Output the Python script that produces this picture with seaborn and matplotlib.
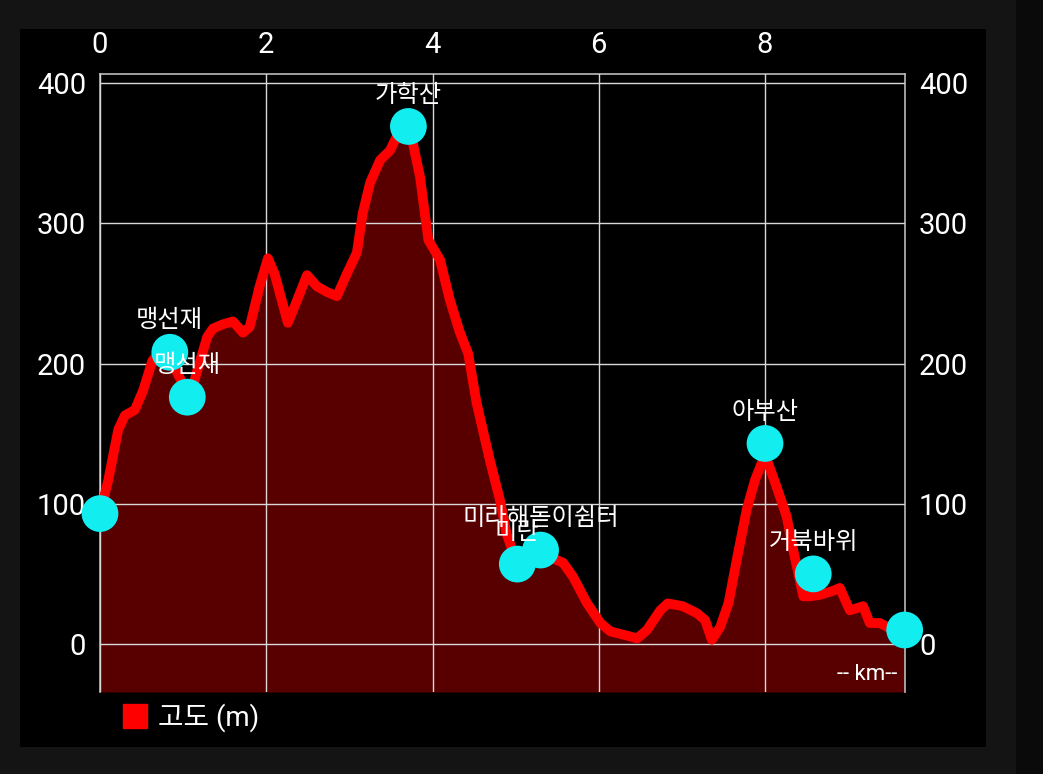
import matplotlib
matplotlib.use("Agg")
import matplotlib.pyplot as plt
from matplotlib.patches import Rectangle
from matplotlib.lines import Line2D
import seaborn as sns
import pandas as pd

# --- data ---
dist_km = [0.00, 0.10, 0.22, 0.30, 0.42, 0.52, 0.63, 0.72, 0.84, 0.94, 1.03, 1.10, 1.17,
           1.29, 1.36, 1.48, 1.60, 1.72, 1.80, 1.92, 2.02, 2.10, 2.26, 2.37, 2.49, 2.61,
           2.73, 2.85, 2.97, 3.09, 3.16, 3.25, 3.37, 3.49, 3.57, 3.67, 3.75, 3.85, 3.95,
           4.09, 4.21, 4.33, 4.43, 4.53, 4.69, 4.81, 4.89, 4.97, 5.10, 5.25, 5.41, 5.57,
           5.69, 5.86, 6.02, 6.14, 6.34, 6.46, 6.58, 6.74, 6.83, 7.01, 7.18, 7.28, 7.36,
           7.46, 7.56, 7.66, 7.78, 7.88, 8.00, 8.14, 8.26, 8.34, 8.46, 8.54, 8.66, 8.82,
           8.90, 9.02, 9.18, 9.26, 9.38, 9.54, 9.68]
elev_m = [93, 117, 153, 163, 167, 181, 202, 208, 205, 192, 182, 180, 195,
          219, 225, 228, 230, 222, 226, 255, 275, 264, 229, 245, 263, 255,
          251, 248, 264, 279, 307, 329, 345, 352, 362, 363, 361, 333, 288,
          274, 245, 222, 207, 172, 131, 103, 79, 65, 66, 66, 62, 58,
          48, 29, 15, 9, 6, 4, 10, 24, 29, 27, 22, 17, 3,
          12, 29, 60, 96, 117, 135, 112, 91, 67, 34, 34, 35, 38,
          40, 24, 27, 15, 15, 10, 10]

wp_km = [0.00, 0.84, 1.05, 3.71, 5.02, 5.30, 8.00, 8.58, 9.68]
wp_elev = [93, 208, 176, 369, 57, 67, 143, 50, 10]
wp_names = ["", "맹선재", "맹선재", "가학산", "미란", "미라해돋이쉼터", "아부산", "거북바위", ""]

x_ticks = [0, 2, 4, 6, 8]
y_ticks = [0, 100, 200, 300, 400]
series_label = "고도 (m)"
axis_unit = "-- km--"

# --- style ---
sns.set_theme(style="dark")
plt.rcParams["font.family"] = ["Roboto", "Noto Sans CJK KR", "DejaVu Sans"]

W, H = 1043, 774
fig = plt.figure(figsize=(W / 100, H / 100), dpi=100, facecolor="#141414")
fig.patches.append(Rectangle((1016 / W, 0), 27 / W, 1, transform=fig.transFigure,
                             facecolor="#0a0a0a", edgecolor="none", zorder=-10))
fig.patches.append(Rectangle((20 / W, (H - 747) / H), 966 / W, 718 / H, transform=fig.transFigure,
                             facecolor="black", edgecolor="none", zorder=-5))

ax = fig.add_axes([100 / W, (H - 692) / H, 805 / W, 618 / H])
ax.set_facecolor("black")

df = pd.DataFrame({"km": dist_km, "elev": elev_m})
ymin, ymax = -34.2, 406.4
ax.fill_between(df["km"], df["elev"], ymin, color="#580000", zorder=1, linewidth=0)
sns.lineplot(data=df, x="km", y="elev", ax=ax, color="#ff0000", linewidth=7,
             zorder=3, legend=False)

wp = pd.DataFrame({"km": wp_km, "elev": wp_elev, "name": wp_names})
sns.scatterplot(data=wp, x="km", y="elev", ax=ax, color="#12eef0", s=700,
                edgecolor="none", zorder=5, legend=False, clip_on=False)
for _, r in wp.iterrows():
    if r["name"]:
        ax.annotate(r["name"], (r["km"], r["elev"]), xytext=(0, 23), textcoords="offset points",
                    ha="center", va="center", color="white", fontsize=17.5,
                    family=["Noto Sans CJK KR", "DejaVu Sans"], zorder=6)

ax.set_xlim(0, 9.684)
ax.set_ylim(ymin, ymax)
ax.set_xticks(x_ticks)
ax.set_yticks(y_ticks)
ax.set_xticklabels([str(t) for t in x_ticks])
ax.set_yticklabels([str(t) for t in y_ticks])
ax.xaxis.tick_top()
ax.tick_params(axis="x", colors="white", labelsize=21, length=0, pad=11)
ax.tick_params(axis="y", colors="white", labelsize=21, length=0, pad=10,
               left=True, right=True, labelleft=True, labelright=True)
ax.set_xlabel("")
ax.set_ylabel("")
ax.grid(True, color="#d8d8d8", linewidth=1, zorder=2)
ax.set_axisbelow(False)
for side in ["top", "left", "right"]:
    ax.spines[side].set_visible(True)
    ax.spines[side].set_color("#bbbbbb")
    ax.spines[side].set_linewidth(1.2)
ax.spines["bottom"].set_visible(False)

ax.text(0.99, 0.012, axis_unit, transform=ax.transAxes, ha="right", va="bottom",
        color="white", fontsize=16, zorder=7)

handle = Line2D([], [], marker="s", linestyle="none", color="#ff0000", markersize=17)
fig.legend([handle], [series_label], loc="center left",
           bbox_to_anchor=(96 / W, (H - 718) / H), frameon=False,
           labelcolor="white", handletextpad=0.35, handlelength=1.0,
           prop={"family": ["Roboto", "Noto Sans CJK KR", "DejaVu Sans"], "size": 20})

fig.savefig("out.png", dpi=100, facecolor=fig.get_facecolor())
